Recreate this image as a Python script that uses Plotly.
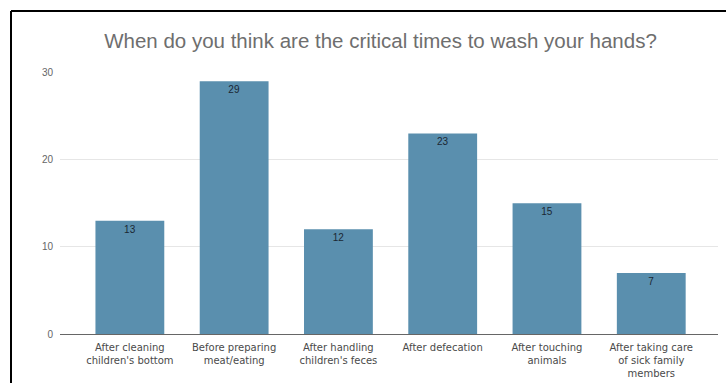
import plotly.graph_objects as go

categories = [
    "After cleaning<br>children's bottom",
    "Before preparing<br>meat/eating",
    "After handling<br>children's feces",
    "After defecation",
    "After touching<br>animals",
    "After taking care<br>of sick family<br>members",
]
counts = [13, 29, 12, 23, 15, 7]
y_ticks = [0, 10, 20, 30]

W, H = 726, 383
ML, MR, MT, MB = 60, 8, 72, 49
plot_w = W - ML - MR
plot_h = H - MT - MB

fig = go.Figure(
    go.Bar(
        x=list(range(len(categories))),
        y=counts,
        text=[str(v) for v in counts],
        textposition="inside",
        insidetextanchor="end",
        textangle=0,
        textfont=dict(family="Liberation Sans, Arial, sans-serif", size=10, color="#1b2733"),
        marker=dict(color="#5a8fae", line=dict(width=0)),
        width=0.66,
        hoverinfo="skip",
    )
)

fig.update_layout(
    width=W,
    height=H,
    margin=dict(l=ML, r=MR, t=MT, b=MB, autoexpand=False),
    paper_bgcolor="white",
    plot_bgcolor="white",
    showlegend=False,
    title=dict(
        text="When do you think are the critical times to wash your hands?",
        x=380.5 / W,
        xanchor="center",
        xref="container",
        y=1 - 41 / H,
        yanchor="middle",
        yref="container",
        font=dict(family="Liberation Sans, Arial, sans-serif", size=20.5, color="#6e6e6e"),
    ),
    xaxis=dict(
        range=[-0.67, 5.64],
        tickmode="array",
        tickvals=list(range(len(categories))),
        ticktext=categories,
        tickfont=dict(family="DejaVu Sans, Verdana, sans-serif", size=10, color="#4a4a4a"),
        showgrid=False,
        zeroline=False,
        showline=True,
        linecolor="#666666",
        linewidth=1,
        ticks="",
        ticklabelstandoff=4,
        automargin=False,
        fixedrange=True,
    ),
    yaxis=dict(
        range=[0, 30.05],
        tickmode="array",
        tickvals=y_ticks,
        ticktext=[str(v) for v in y_ticks],
        tickfont=dict(family="Liberation Sans, Arial, sans-serif", size=10, color="#666666"),
        showgrid=True,
        gridcolor="#e6e6e6",
        gridwidth=1,
        zeroline=False,
        showline=False,
        ticks="",
        ticklabelstandoff=6,
        automargin=False,
        fixedrange=True,
    ),
)

# Black frame around the chart card (open towards the right and bottom edges)
x0 = (11 - ML) / plot_w
y_top = 1 + (MT - 11) / plot_h
fig.add_shape(type="line", xref="paper", yref="paper",
              x0=x0, x1=(W + 5 - ML) / plot_w, y0=y_top, y1=y_top,
              line=dict(color="black", width=2))
fig.add_shape(type="line", xref="paper", yref="paper",
              x0=x0, x1=x0, y0=y_top, y1=-(MB + 5) / plot_h,
              line=dict(color="black", width=2))

fig.write_html("out.html")
